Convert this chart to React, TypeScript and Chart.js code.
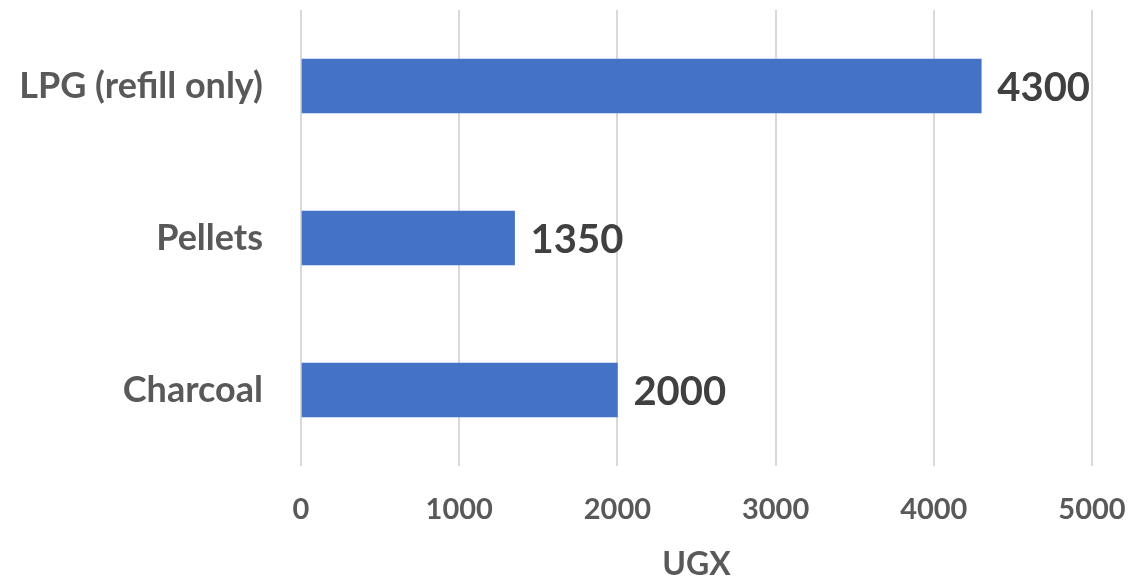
import React, { useEffect, useRef } from "react";
import { Chart, registerables } from "chart.js";

Chart.register(...registerables);

const categories = ["LPG (refill only)", "Pellets", "Charcoal"];
const values = [4300, 1350, 2000];
const xTicks = [0, 1000, 2000, 3000, 4000, 5000];
const axisTitle = "UGX";

const FONT = "Lato, 'Open Sans', sans-serif";

const valueLabels = {
  id: "valueLabels",
  afterDatasetsDraw(chart: any) {
    const ctx = chart.ctx;
    const meta = chart.getDatasetMeta(0);
    ctx.save();
    ctx.font = `bold 40px ${FONT}`;
    ctx.fillStyle = "#404040";
    ctx.textAlign = "left";
    ctx.textBaseline = "middle";
    meta.data.forEach((bar: any, i: number) => {
      ctx.fillText(String(values[i]), bar.x + 16, bar.y + 2);
    });
    ctx.restore();
  },
};

function zeroPad(scale: any) {
  scale.paddingTop = 0;
  scale.paddingBottom = 0;
  scale.paddingLeft = 0;
  scale.paddingRight = 0;
}

export default function App() {
  const ref = useRef<HTMLCanvasElement | null>(null);
  useEffect(() => {
    document.body.style.margin = "0";
    const chart = new Chart(ref.current as HTMLCanvasElement, {
      type: "bar",
      data: {
        labels: categories,
        datasets: [
          {
            data: values,
            backgroundColor: "#4472C4",
            barThickness: 54,
          },
        ],
      },
      options: {
        indexAxis: "y",
        animation: false,
        responsive: false,
        maintainAspectRatio: false,
        layout: { padding: { top: 10, right: 38, bottom: 0, left: 0 } },
        plugins: { legend: { display: false }, tooltip: { enabled: false } },
        scales: {
          x: {
            min: 0,
            max: 5000,
            afterBuildTicks(scale: any) {
              scale.ticks = xTicks.map((v) => ({ value: v }));
            },
            afterFit(scale: any) {
              scale.height = 110;
              zeroPad(scale);
            },
            grid: { color: "#d9d9d9", lineWidth: 2, drawTicks: false },
            border: { display: false },
            ticks: {
              padding: 26,
              color: "#595959",
              font: { family: FONT, size: 29, weight: "bold" },
              callback: (v: any) => String(v),
            },
            title: {
              display: true,
              text: axisTitle,
              color: "#595959",
              font: { family: FONT, size: 32, weight: "bold" },
              padding: { top: 0, bottom: -8 },
            },
          },
          y: {
            afterFit(scale: any) {
              scale.width = 301;
              zeroPad(scale);
            },
            grid: { display: false, drawTicks: false },
            border: { display: false },
            ticks: {
              padding: 38,
              color: "#595959",
              font: { family: FONT, size: 36, weight: "bold" },
            },
          },
        },
      },
      plugins: [valueLabels],
    } as any);
    return () => chart.destroy();
  }, []);
  return <canvas ref={ref} width={1130} height={576} style={{ display: "block" }} />;
}
